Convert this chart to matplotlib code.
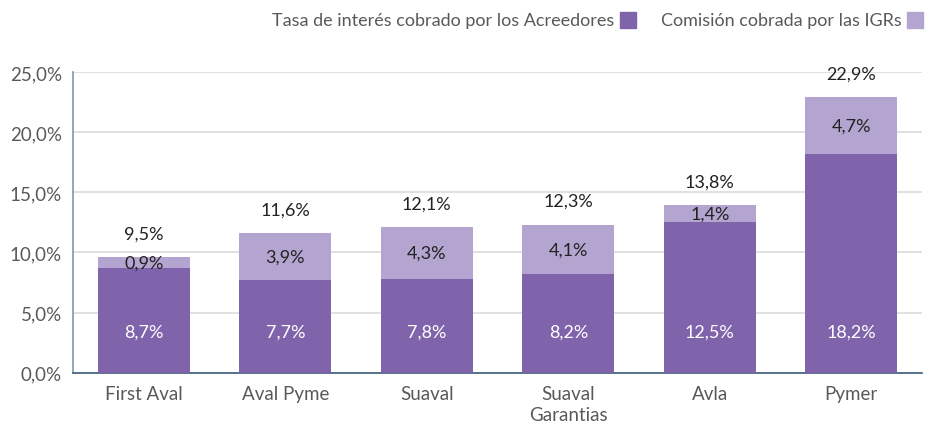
import matplotlib
matplotlib.use("Agg")
import matplotlib.pyplot as plt
from matplotlib.patches import Rectangle

categories = ["First Aval", "Aval Pyme", "Suaval", "Suaval\nGarantias", "Avla", "Pymer"]
tasa = [8.7, 7.7, 7.8, 8.2, 12.5, 18.2]
comision = [0.9, 3.9, 4.3, 4.1, 1.4, 4.7]
totales = [9.5, 11.6, 12.1, 12.3, 13.8, 22.9]
yticks = [0, 5, 10, 15, 20, 25]
series_names = ["Tasa de interés cobrado por los Acreedores", "Comisión cobrada por las IGRs"]

DARK = "#7f64ac"
LIGHT = "#b4a4d0"
GRAY = "#595959"

plt.rcParams['font.family'] = ['Lato', 'DejaVu Sans']

def fmt(v):
    return f"{v:.1f}%".replace(".", ",")

fig = plt.figure(figsize=(9.3, 4.27), dpi=100)
ax = fig.add_axes([0.0785, 0.125, 0.913, 0.704])

x = list(range(len(categories)))
w = 0.65
ax.bar(x, tasa, width=w, color=DARK, zorder=3)
ax.bar(x, comision, width=w, bottom=tasa, color=LIGHT, zorder=3)

for i in x:
    ax.text(i, 3.45, fmt(tasa[i]), ha="center", va="center", color="white", fontsize=13, zorder=4)
    ax.text(i, tasa[i] + comision[i] / 2, fmt(comision[i]), ha="center", va="center", color="#222222", fontsize=13, zorder=4)
    ax.annotate(fmt(totales[i]), (i, tasa[i] + comision[i]), xytext=(0, 17), textcoords="offset points",
                ha="center", va="center", color="#222222", fontsize=13, zorder=4)

ax.set_xlim(-0.5, len(categories) - 0.5)
ax.set_ylim(0, 25)
ax.set_yticks(yticks)
ax.set_yticklabels([fmt(v) for v in yticks], color=GRAY, fontsize=13.5)
ax.set_xticks(x)
ax.set_xticklabels(categories, color=GRAY, fontsize=13.5, linespacing=1.3, va="top")
ax.tick_params(axis="x", length=0, pad=9)
ax.tick_params(axis="y", length=0, pad=8)
ax.yaxis.grid(True, color="#dcdcdc", linewidth=1.2, zorder=0)
for s in ["top", "right"]:
    ax.spines[s].set_visible(False)
ax.spines["left"].set_color("#7f98ad")
ax.spines["bottom"].set_color("#3c5a7c")
ax.spines["left"].set_linewidth(1.2)
ax.spines["bottom"].set_linewidth(1.2)

# legend (text followed by square)
fig_w, fig_h = 930, 427
def legend_entry(text_right_px, square_left_px, label, color):
    fig.text(text_right_px / fig_w, 1 - 21 / fig_h, label, ha="right", va="center", color=GRAY, fontsize=13)
    fig.patches.append(Rectangle((square_left_px / fig_w, 1 - 29 / fig_h), 16 / fig_w, 16 / fig_h,
                                 transform=fig.transFigure, color=color, figure=fig))

legend_entry(614, 620, series_names[0], DARK)
legend_entry(902, 907, series_names[1], LIGHT)

fig.savefig("out.png", dpi=100)
